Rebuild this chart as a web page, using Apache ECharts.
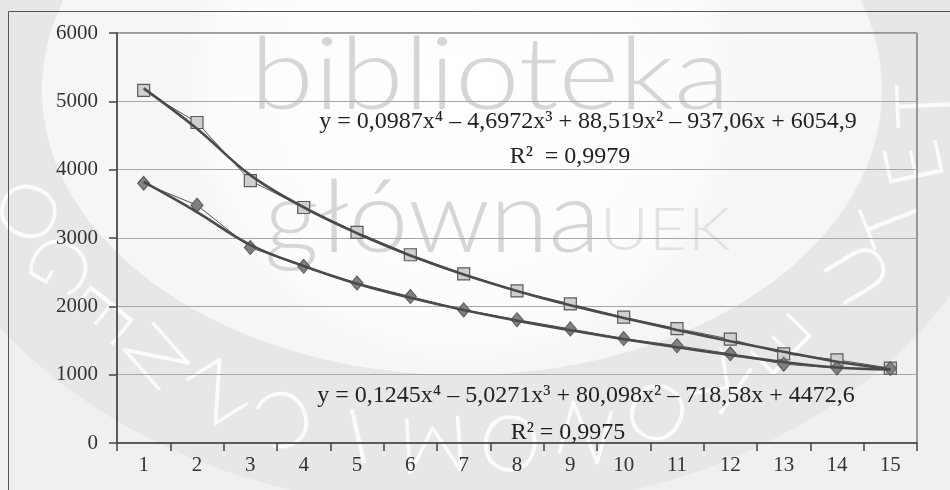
<!DOCTYPE html>
<html>
<head>
<meta charset="utf-8">
<script src="https://cdn.jsdelivr.net/npm/echarts@6/dist/echarts.min.js"></script>
<style>html,body{margin:0;padding:0;background:#fff}#c{width:950px;height:490px}</style>
</head>
<body>
<div id="c"></div>
<script>
var categories = ['1','2','3','4','5','6','7','8','9','10','11','12','13','14','15'];
var squareValues  = [5160, 4690, 3840, 3446, 3083, 2755, 2475, 2225, 2036, 1841, 1675, 1520, 1305, 1217, 1095];
var diamondValues = [3800, 3480, 2860, 2585, 2340, 2143, 1948, 1805, 1670, 1528, 1424, 1305, 1154, 1096, 1090];
var squareTrend   = [5190, 4600, 3920, 3450, 3070, 2745, 2465, 2225, 2015, 1830, 1655, 1490, 1335, 1190, 1080];
var diamondTrend  = [3820, 3380, 2900, 2590, 2330, 2125, 1945, 1790, 1650, 1520, 1400, 1290, 1185, 1105, 1075];
var yTicks = [0, 1000, 2000, 3000, 4000, 5000, 6000];
var eq1 = 'y = 0,0987x\u2074 \u2013 4,6972x\u00B3 + 88,519x\u00B2 \u2013 937,06x + 6054,9';
var r1 = 'R\u00B2  = 0,9979';
var eq2 = 'y = 0,1245x\u2074 \u2013 5,0271x\u00B3 + 80,098x\u00B2 \u2013 718,58x + 4472,6';
var r2 = 'R\u00B2 = 0,9975';
var ringLetters = ['T','E','T','U','E','K','O','N','O','M','I','C','Z','N','E','G','O'];
var ringAngles  = [2.5, 12, 21.5, 31, 46, 55.5, 65, 74.5, 84, 93.5, 103, 112.5, 122, 131.5, 141, 150.5, 160];

var serif = '"Liberation Serif", "Times New Roman", serif';
var wmFont = 'Lato, "Open Sans", sans-serif';
var chart = echarts.init(document.getElementById('c'));
var txt = function (s, x, y) {
  return { type: 'text', x: x, y: y, z: 100,
    style: { text: s, font: '24px ' + serif, fill: '#222', textAlign: 'center', textVerticalAlign: 'middle' } };
};
var cx = 462, cy = 90, rx = 464, ry = 353;
var graphics = [
  { type: 'ellipse', shape: { cx: cx, cy: cy, rx: 560, ry: 420 }, z: -20, silent: true,
    style: { fill: '#e7e7e7' } },
  { type: 'ellipse', shape: { cx: cx, cy: cy, rx: 420, ry: 285 }, z: -19, silent: true,
    style: { fill: { type: 'radial', x: 0.5, y: 0.5, r: 0.5,
      colorStops: [{ offset: 0, color: '#ffffff' }, { offset: 0.85, color: '#fcfcfc' }, { offset: 1, color: '#f6f6f6' }] } } }
];
ringLetters.forEach(function (ch, i) {
  var t = ringAngles[i] * Math.PI / 180;
  graphics.push({ type: 'text', x: cx + rx * Math.cos(t), y: cy + ry * Math.sin(t),
    rotation: (90 + ringAngles[i]) * Math.PI / 180, z: -15, silent: true,
    style: { text: ch, font: '300 78px ' + wmFont, fill: '#fbfbfb', textAlign: 'center', textVerticalAlign: 'middle' } });
});
graphics.push(
  { type: 'text', x: 250, y: 27, scaleX: 1.16, z: -5, silent: true,
    style: { text: 'biblioteka', font: '300 100px ' + wmFont, fill: '#d6d6d6', textVerticalAlign: 'top' } },
  { type: 'text', x: 264, y: 170, scaleX: 1.07, z: -5, silent: true,
    style: { text: 'główna', font: '300 100px ' + wmFont, fill: '#d6d6d6', textVerticalAlign: 'top' } },
  { type: 'text', x: 600, y: 201, scaleX: 1.12, z: -5, silent: true,
    style: { text: 'UEK', font: '300 60px ' + wmFont, fill: '#e2e2e2', textVerticalAlign: 'top' } },
  { type: 'rect', shape: { x: 8.5, y: 11.5, width: 1200, height: 1000 }, z: 50, silent: true,
    style: { fill: 'none', stroke: '#555', lineWidth: 1 } },
  txt(eq1, 588, 122),
  txt(r1, 570, 157),
  txt(eq2, 586, 396),
  txt(r2, 568, 433)
);
chart.setOption({
  backgroundColor: '#f0f0f0',
  animation: false,
  graphic: graphics,
  grid: { left: 117, top: 33, right: 33, bottom: 47, show: true, borderColor: '#444', borderWidth: 1, backgroundColor: 'transparent' },
  xAxis: {
    type: 'category', data: categories, boundaryGap: true,
    axisLine: { lineStyle: { color: '#444', width: 1.5 } },
    axisTick: { show: true, length: 8, lineStyle: { color: '#444', width: 1.5 } },
    axisLabel: { color: '#333', fontFamily: serif, fontSize: 21, margin: 12 },
    splitLine: { show: false }
  },
  yAxis: {
    type: 'value', min: yTicks[0], max: yTicks[yTicks.length - 1], interval: 1000,
    axisLine: { show: true, lineStyle: { color: '#444', width: 1.5 } },
    axisTick: { show: true, length: 8, lineStyle: { color: '#444', width: 1.5 } },
    axisLabel: { color: '#333', fontFamily: serif, fontSize: 21, margin: 19, formatter: function (v) { return String(v); } },
    splitLine: { show: true, lineStyle: { color: '#a6a6a6', width: 1.2 } }
  },
  series: [
    { type: 'line', data: squareValues, symbol: 'rect', symbolSize: 12, z: 3,
      lineStyle: { color: '#555', width: 1 },
      itemStyle: { color: '#cfcfcf', borderColor: '#5a5a5a', borderWidth: 1.2 } },
    { type: 'line', data: diamondValues, symbol: 'diamond', symbolSize: [12, 14], z: 3,
      lineStyle: { color: '#555', width: 1 },
      itemStyle: { color: '#808080', borderColor: '#555', borderWidth: 1 } },
    { type: 'line', data: squareTrend, smooth: 0.4, symbol: 'none', z: 5,
      lineStyle: { color: '#4a4a4a', width: 2.6 } },
    { type: 'line', data: diamondTrend, smooth: 0.4, symbol: 'none', z: 5,
      lineStyle: { color: '#4a4a4a', width: 2.6 } }
  ]
});
</script>
</body>
</html>
